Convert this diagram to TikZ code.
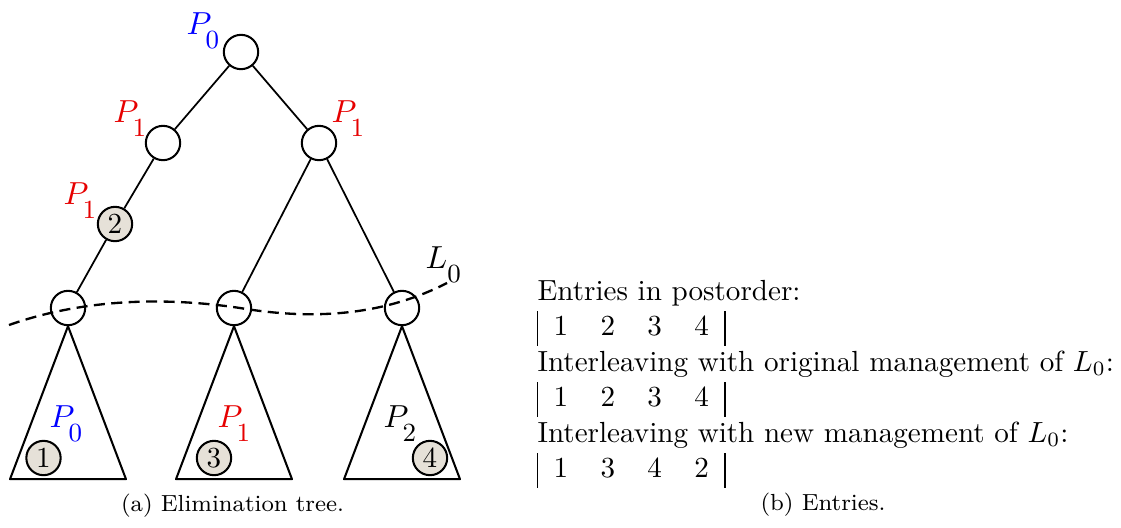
\documentclass[tikz,border=0pt]{standalone}
\usepackage{tikz}
\usepackage{xcolor}
\definecolor{leafgray}{RGB}{230,225,216}
\definecolor{procblue}{RGB}{0,0,255}
\definecolor{procred}{RGB}{230,0,0}
% label P with a large lowered index
\newcommand{\proc}[2]{\textcolor{#1}{$P$\kern-2pt\raisebox{-5.1pt}{\fontsize{9}{10}\selectfont #2}}}

\begin{document}
\begin{tikzpicture}[x=0.3436pt,y=-0.3436pt,line join=round,
  vert/.style={circle,draw,line width=0.7pt,minimum size=11.8pt,inner sep=0pt},
  leaf/.style={vert,fill=leafgray,font=\fontsize{10}{11}\selectfont},
  lab/.style={anchor=base west,inner sep=0pt,font=\fontsize{10.95}{13}\selectfont},
  txt/.style={anchor=base west,inner sep=0pt},
  edge/.style={line width=0.6pt},
  subtree/.style={line width=0.7pt}]
  \useasboundingbox (0,0) rectangle (1121,527);
  % elimination tree
  \node[vert] (root) at (241,52) {};
  \node[vert] (l1) at (163,143) {};
  \node[vert] (r1) at (319,143) {};
  \node[leaf] (n2) at (115,224) {2};
  \node[vert] (b1) at (68,308) {};
  \node[vert] (b2) at (234,308) {};
  \node[vert] (b3) at (402,308) {};
  \draw[edge] (root) -- (l1);
  \draw[edge] (root) -- (r1);
  \draw[edge] (l1) -- (n2);
  \draw[edge] (n2) -- (b1);
  \draw[edge] (r1) -- (b2);
  \draw[edge] (r1) -- (b3);
  \node[lab] (proot) at (186,34) {\proc{procblue}{0}};
  \node[lab] (pl1) at (113,122) {\proc{procred}{1}};
  \node[lab] (pr1) at (331,122) {\proc{procred}{1}};
  \node[lab] (pn2) at (63,204) {\proc{procred}{1}};
  % subtrees below the layer
  \foreach \b in {b1,b2,b3}{\draw[subtree] (\b.south) -- ++(-58,153) -- ++(116,0) -- cycle;}
  \node[leaf] (e1) at (43.5,458) {1};
  \node[leaf] (e3) at (214,458) {3};
  \node[leaf] (e4) at (430,458) {4};
  \node[lab] (pt1) at (49,427) {\proc{procblue}{0}};
  \node[lab] (pt2) at (217,427) {\proc{procred}{1}};
  \node[lab] (pt3) at (383,427) {\proc{black}{2}};
  % layer L0
  \draw[thick,dash pattern=on 3.8pt off 2.2pt] (9,325) .. controls (80,300) and (160,296) .. (240,308) .. controls (300,318) and (375,320) .. (447,283);
  \node[lab] (lzero) at (425,268) {$L$\raisebox{-5.1pt}{\fontsize{9}{10}\selectfont 0}};
  \node[anchor=base,font=\footnotesize] (capa) at (232.5,511) {(a) Elimination tree.};
  % entries
  \setlength{\tabcolsep}{5.55pt}
  \node[txt] (t1) at (537,300) {Entries in postorder:};
  \node[txt] (s1) at (537,335.5) {\begin{tabular}[b]{|cccc|}1&2&3&4\end{tabular}};
  \node[txt] (t2) at (537,371) {Interleaving with original management of $L_0$:};
  \node[txt] (s2) at (537,406.5) {\begin{tabular}[b]{|cccc|}1&2&3&4\end{tabular}};
  \node[txt] (t3) at (537,442) {Interleaving with new management of $L_0$:};
  \node[txt] (s3) at (537,477.5) {\begin{tabular}[b]{|cccc|}1&3&4&2\end{tabular}};
  \node[anchor=base,font=\footnotesize] (capb) at (823,510) {(b) Entries.};
\end{tikzpicture}
\end{document}
